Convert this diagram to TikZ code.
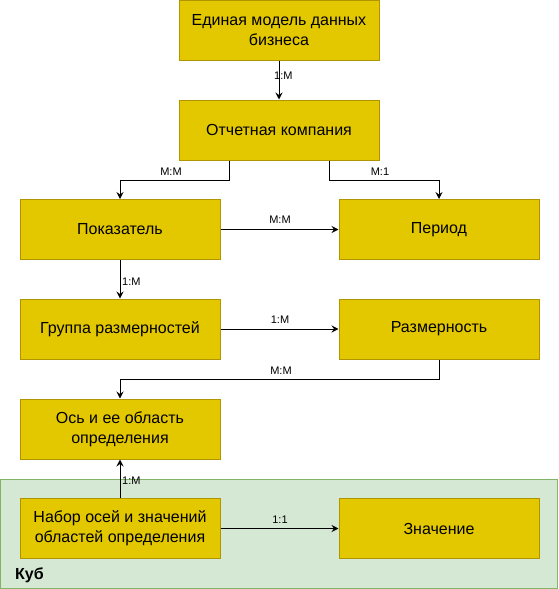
\documentclass[tikz,border=0pt]{standalone}
\usepackage{fontspec}
\setmainfont{Liberation Sans}
\usetikzlibrary{arrows.meta,calc}
\definecolor{boxfill}{HTML}{E3C800}
\definecolor{boxdraw}{HTML}{B09500}
\definecolor{grpfill}{HTML}{D5E8D4}
\definecolor{grpdraw}{HTML}{82B366}
\tikzset{
  ent/.style={rectangle, draw=boxdraw, fill=boxfill, line width=1pt,
    minimum width=200pt, minimum height=60pt, inner sep=2pt, align=center,
    font=\fontsize{16}{20}\selectfont},
  conn/.style={draw=black, line width=1pt, -{Stealth[length=7pt,width=7pt,inset=2.5pt]}},
  card/.style={inner sep=0pt, font=\fontsize{11}{13}\selectfont},
}
\begin{document}
\begin{tikzpicture}[x=1pt,y=-1pt]
\useasboundingbox (0,0) rectangle (558,589);
% cube group
\path[fill=grpfill, draw=grpdraw, line width=1pt] (0.5,479) rectangle (557.5,588.5);
\node[anchor=west, inner sep=0pt, font=\bfseries\fontsize{16}{20}\selectfont] (kub) at (15,575) {Куб};
% entities
\node[ent] (bm) at (279,30) {Единая модель данных\\бизнеса};
\node[ent] (oc) at (279,130) {Отчетная компания};
\node[ent] (pok) at (120,229.5) {Показатель};
\node[ent] (per) at (439,229.5) {Период};
\node[ent] (grp) at (120,329) {Группа размерностей};
\node[ent] (raz) at (439,329) {Размерность};
\node[ent] (os) at (120,429) {Ось и ее область\\определения};
\node[ent] (nab) at (120,528.5) {Набор осей и значений\\областей определения};
\node[ent] (zn) at (439,528.5) {Значение};
% connectors
\draw[conn] (bm.south) -- (oc.north);
\draw[conn] ([xshift=-50pt]oc.south) -- ++(0,20) -| (pok.north);
\draw[conn] ([xshift=50pt]oc.south) -- ++(0,20) -| (per.north);
\draw[conn] (pok.east) -- (per.west);
\draw[conn] (pok.south) -- (grp.north);
\draw[conn] (grp.east) -- (raz.west);
\draw[conn] (raz.south) -- ++(0,20) -| (os.north);
\draw[conn] (nab.north) -- (os.south);
\draw[conn] (nab.east) -- (zn.west);
% cardinality labels
\node[card, anchor=west] (l1) at (274,76) {1:M};
\node[card] (l2) at (171,172) {M:M};
\node[card] (l3) at (380,172) {M:1};
\node[card] (l4) at (280,220) {M:M};
\node[card, anchor=west] (l5) at (122,282) {1:M};
\node[card] (l6) at (280,320) {1:M};
\node[card] (l7) at (281,371) {M:M};
\node[card, anchor=west] (l8) at (122,481) {1:M};
\node[card] (l9) at (280,520) {1:1};
\end{tikzpicture}
\end{document}
